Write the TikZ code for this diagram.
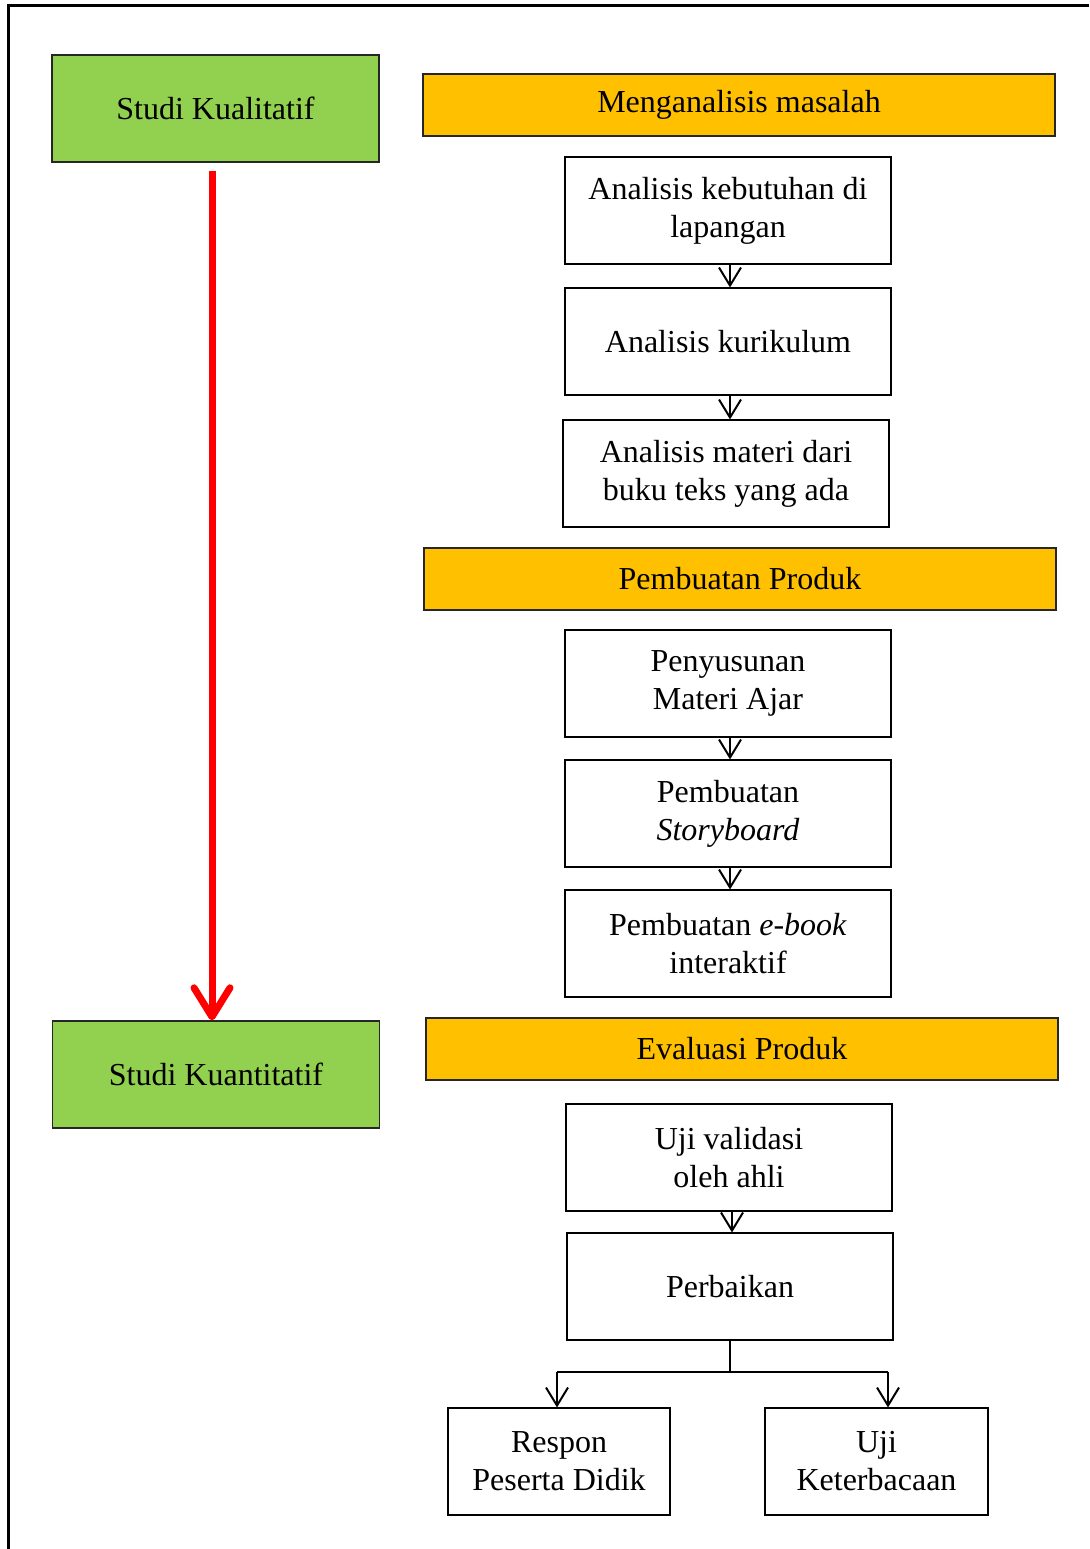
\documentclass[tikz,border=0pt]{standalone}
\usepackage{fontspec}
\setmainfont{Liberation Serif}
\usetikzlibrary{arrows.meta,calc}
\definecolor{kgreen}{HTML}{92D050}
\definecolor{korange}{HTML}{FFC000}
\definecolor{kborder}{HTML}{262626}
\begin{document}
\begin{tikzpicture}[x=1pt,y=-1pt,
  txt/.style={font=\fontsize{32}{38}\selectfont, align=center, inner sep=0pt},
  wbox/.style={txt, draw=black, line width=1.1pt, fill=white, minimum width=326pt, minimum height=107pt},
  gbox/.style={txt, draw=kborder, line width=1.4pt, fill=kgreen, minimum width=327pt, minimum height=107pt},
  obox/.style={txt, draw=kborder, line width=1.4pt, fill=korange, minimum width=632pt, minimum height=62pt},
  barr/.style={draw=black, line width=2pt, -{Straight Barb[length=18pt,width=22pt]}},
  blin/.style={draw=black, line width=2pt},
  rarr/.style={draw=red, line width=7pt, -{Straight Barb[length=29pt,width=36pt,round]}}
]
\useasboundingbox (0,0) rectangle (1089,1549);
% outer frame (top and left edges visible)
\draw[line width=3pt] (8,1549) -- (8,6) -- (1089,6);

% left column
\node[gbox] (kual) at (215.5,108.5) {Studi Kualitatif};
\node[gbox] (kuan) at (216,1074.5) {Studi Kuantitatif};
\coordinate (rs) at (212,171);
\draw[rarr] (rs) -- (rs |- kuan.north);

% headers
\node[obox] (h1) at (739,105) {Menganalisis masalah};
\node[obox] (h2) at (740,579) {Pembuatan Produk};
\node[obox] (h3) at (742,1049) {Evaluasi Produk};

% group 1
\node[wbox] (a1) at (728,210.5) {Analisis kebutuhan di\\lapangan};
\node[wbox] (a2) at (728,341.5) {Analisis kurikulum};
\node[wbox] (a3) at (726,473.5) {Analisis materi dari\\buku teks yang ada};

% group 2
\node[wbox] (b1) at (728,683.5) {Penyusunan\\Materi Ajar};
\node[wbox] (b2) at (728,813.5) {Pembuatan\\\textit{Storyboard}};
\node[wbox] (b3) at (728,943.5) {Pembuatan \textit{e-book}\\interaktif};

% group 3
\node[wbox] (c1) at (729,1157.5) {Uji validasi\\oleh ahli};
\node[wbox] (c2) at (730,1286.5) {Perbaikan};
\node[wbox, minimum width=222pt] (c3) at (559,1461.5) {Respon\\Peserta Didik};
\node[wbox, minimum width=223pt] (c4) at (876.5,1461.5) {Uji\\Keterbacaan};

% arrows between boxes
\coordinate (x1) at (730,0);
\draw[barr] (a1.south -| x1) -- (a2.north -| x1);
\draw[barr] (a2.south -| x1) -- (a3.north -| x1);
\draw[barr] (b1.south -| x1) -- (b2.north -| x1);
\draw[barr] (b2.south -| x1) -- (b3.north -| x1);
\coordinate (x2) at (732,0);
\draw[barr] (c1.south -| x2) -- (c2.north -| x2);

% branch
\coordinate (br) at (730,1372);
\coordinate (bl) at (557,1372);
\coordinate (bri) at (888,1372);
\draw[blin] (c2.south -| br) -- (br);
\draw[blin] (bl) -- (bri);
\draw[barr] (bl) -- (bl |- c3.north);
\draw[barr] (bri) -- (bri |- c4.north);
\end{tikzpicture}
\end{document}
